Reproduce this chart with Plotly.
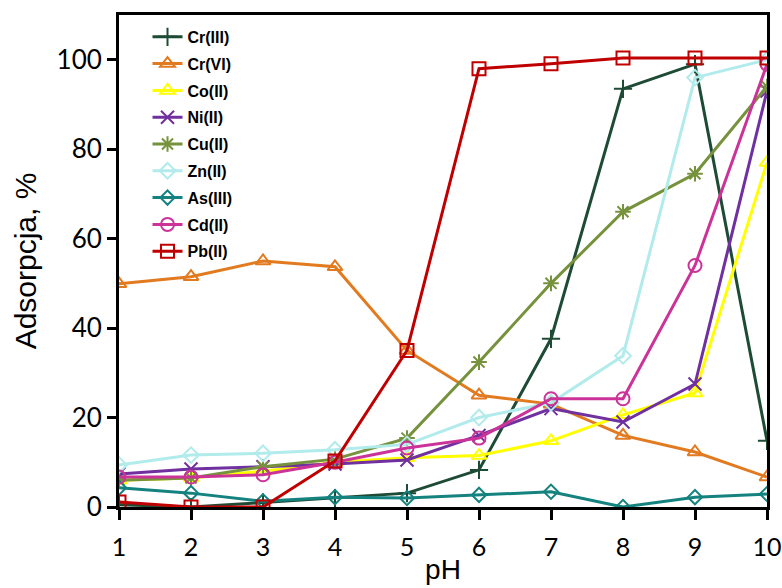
import plotly.graph_objects as go

ph = [1, 2, 3, 4, 5, 6, 7, 8, 9, 10]
names = ["Cr(III)", "Cr(VI)", "Co(II)", "Ni(II)", "Cu(II)", "Zn(II)", "As(III)", "Cd(II)", "Pb(II)"]
cr3 = [0.5, 0.0, 1.0, 2.0, 3.1, 8.3, 37.6, 93.5, 99.0, 14.8]
cr6 = [49.9, 51.5, 55.0, 53.7, 35.0, 25.0, 23.0, 16.0, 12.3, 6.7]
co2 = [6.0, 6.5, 8.0, 10.0, 11.0, 11.5, 14.8, 20.6, 25.5, 77.0]
ni2 = [7.4, 8.5, 9.0, 9.6, 10.5, 16.0, 22.0, 19.0, 27.5, 93.0]
cu2 = [6.0, 6.5, 9.0, 10.7, 15.4, 32.4, 50.0, 66.0, 74.5, 94.0]
zn2 = [9.4, 11.6, 12.0, 12.8, 14.0, 20.0, 23.3, 33.8, 96.0, 100.0]
as3 = [4.3, 3.1, 1.3, 2.2, 2.0, 2.7, 3.4, 0.0, 2.2, 2.9]
cd2 = [6.7, 6.7, 7.2, 10.0, 13.2, 15.4, 24.2, 24.2, 54.0, 99.0]
pb2 = [1.1, 0.0, 0.0, 10.3, 35.0, 98.0, 99.1, 100.4, 100.4, 100.4]
series = [cr3, cr6, co2, ni2, cu2, zn2, as3, cd2, pb2]

colors = ["#1E4B35", "#E27A20", "#FFFF00", "#7030A0", "#76923C", "#B2EBEB", "#14827F", "#CC3399", "#C00000"]
symbols = ["cross-thin-open", "triangle-up-open", "triangle-up-open", "x-thin-open", "asterisk-open",
           "diamond-open", "diamond-open", "circle-open", "square-open"]
sizes = [13, 13, 13, 13, 13, 12, 11, 13, 13]

fig = go.Figure()
for i, (n, ys) in enumerate(zip(names, series)):
    fig.add_trace(go.Scatter(
        x=ph, y=ys, name=n, mode="lines+markers", legendgroup=n,
        line=dict(color=colors[i], width=3),
        marker=dict(symbol=symbols[i], size=sizes[i], color=colors[i],
                    line=dict(color=colors[i], width=2)),
    ))

fig.update_layout(
    width=782, height=588,
    margin=dict(l=119, r=15, t=15, b=81),
    paper_bgcolor="white", plot_bgcolor="white",
    font=dict(family="Liberation Sans, Arial, sans-serif", color="black"),
    legend=dict(x=0.044, y=0.99, xanchor="left", yanchor="top",
                font=dict(size=16, family="Liberation Sans, Arial, sans-serif", weight="bold"),
                bgcolor="rgba(0,0,0,0)", tracegroupgap=3, itemwidth=30),
    xaxis=dict(range=[1, 10], tickvals=ph, ticks="outside", ticklen=10, tickwidth=3,
               tickcolor="black", showline=True, linecolor="black", linewidth=3, mirror=True,
               showgrid=False, zeroline=False, automargin=False, ticklabeloverflow="allow",
               ticklabelstandoff=6,
               tickfont=dict(size=25, family="Lato, Open Sans, sans-serif"),
               title=dict(text="pH", font=dict(size=28), standoff=0)),
    yaxis=dict(range=[0, 110], tickvals=[0, 20, 40, 60, 80, 100], ticks="outside", ticklen=9,
               tickwidth=3, tickcolor="black", showline=True, linecolor="black", linewidth=3,
               mirror=True, showgrid=False, zeroline=False, automargin=False,
               tickfont=dict(size=26, family="Lato, Open Sans, sans-serif"),
               title=dict(text="Adsorpcja, %", font=dict(size=30), standoff=12)),
)

fig.write_html("out.html")
